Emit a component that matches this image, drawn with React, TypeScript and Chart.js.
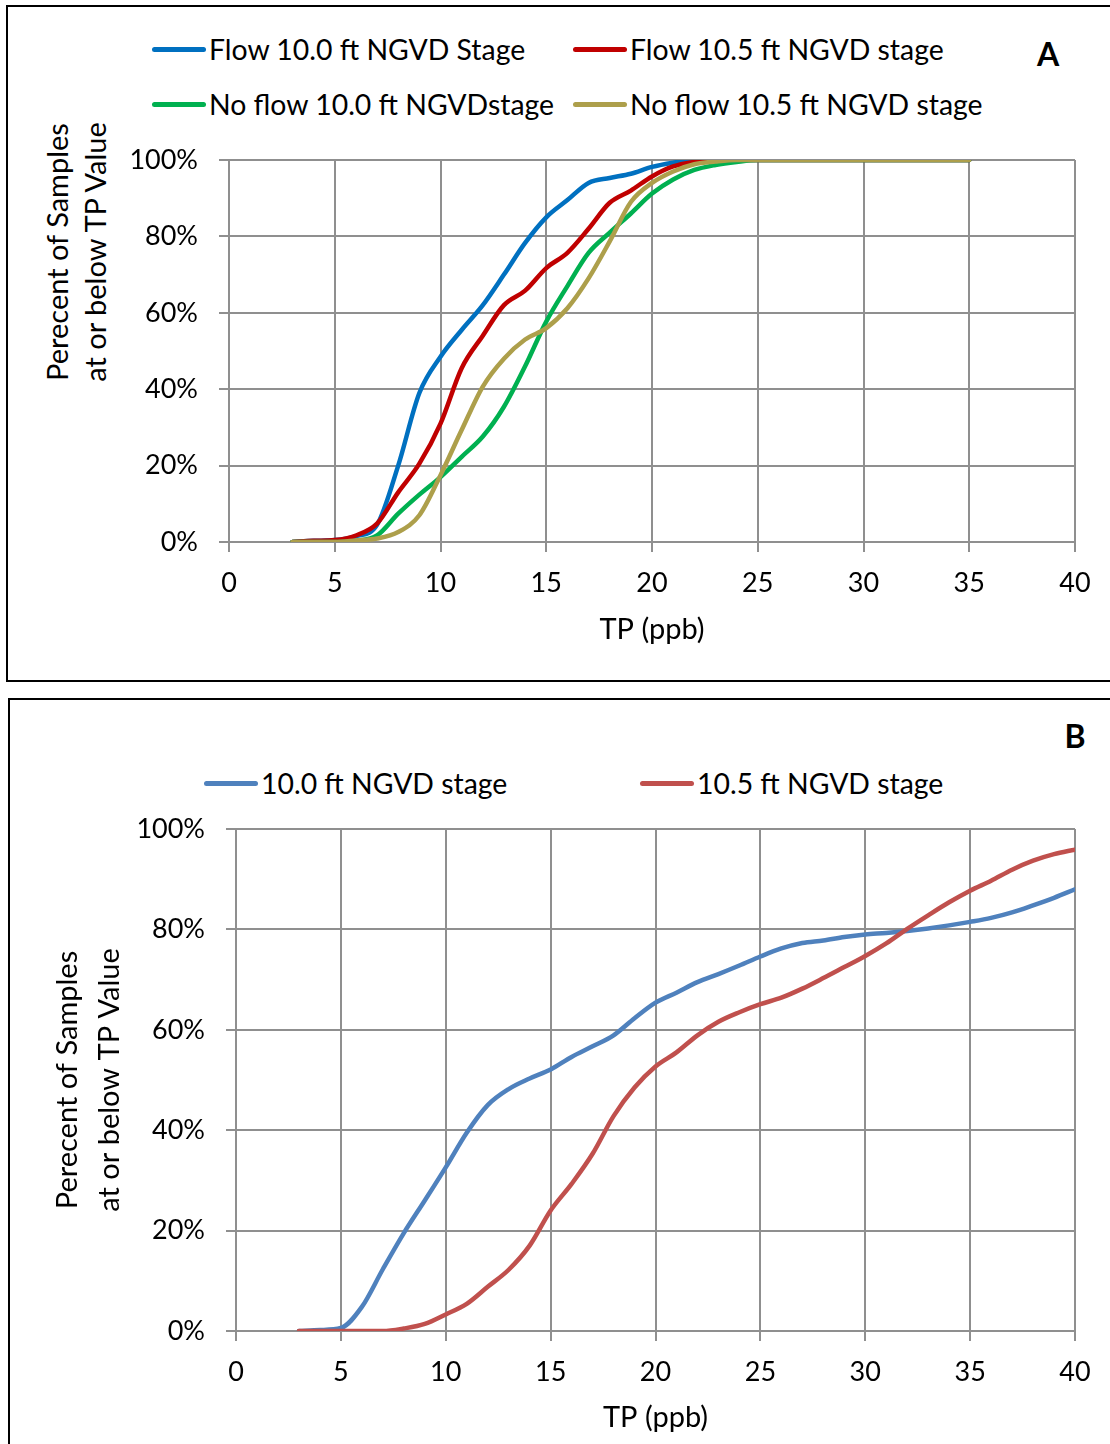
import React, { useEffect, useRef } from "react";
import { Chart, registerables } from "chart.js";

Chart.register(...registerables);

// ---------------- data ----------------
// Panel A: x = TP (ppb), y = percent of samples at or below TP
const tpA = [3, 4, 5, 6, 7, 8, 9, 10, 11, 12, 13, 14, 15, 16, 17, 18, 19, 20, 21, 22, 23, 24, 25, 26, 27, 28, 29, 30, 31, 32, 33, 34, 35];
const flow100 = [0, 0.3, 0.5, 1.5, 4.5, 20, 39, 48.5, 55.5, 62, 70, 78.3, 85, 89.5, 94, 95.3, 96.4, 98.2, 99.3, 100, 100, 100, 100, 100, 100, 100, 100, 100, 100, 100, 100, 100, 100];
const flow105 = [0, 0.3, 0.5, 1.7, 4.8, 13, 20.5, 31, 45.5, 54, 62, 65.8, 71.7, 75.7, 82, 88.8, 92, 95.7, 98.3, 99.5, 100, 100, 100, 100, 100, 100, 100, 100, 100, 100, 100, 100, 100];
const noFlow100 = [0, 0, 0, 0.3, 1.7, 7.4, 12.4, 17, 22.3, 27.6, 35.4, 46, 57.7, 67, 75.7, 81, 86, 91.2, 94.9, 97.4, 98.7, 99.5, 100, 100, 100, 100, 100, 100, 100, 100, 100, 100, 100];
const noFlow105 = [0, 0, 0, 0.4, 0.9, 2.6, 7, 17.5, 29.3, 40.7, 48, 53, 56, 61.2, 69, 78.7, 89, 94, 97, 98.9, 99.6, 100, 100, 100, 100, 100, 100, 100, 100, 100, 100, 100, 100];

// Panel B
const tpB = [3, 4, 5, 6, 7, 8, 9, 10, 11, 12, 13, 14, 15, 16, 17, 18, 19, 20, 21, 22, 23, 24, 25, 26, 27, 28, 29, 30, 31, 32, 33, 34, 35, 36, 37, 38, 39, 40];
const stage100 = [0, 0.2, 0.6, 4.8, 12.3, 19.5, 26, 32.6, 39.5, 45, 48.2, 50.3, 52.1, 54.6, 56.7, 58.9, 62.3, 65.4, 67.4, 69.5, 71.1, 72.8, 74.6, 76.2, 77.3, 77.8, 78.5, 79, 79.3, 79.7, 80.2, 80.8, 81.5, 82.3, 83.4, 84.8, 86.3, 88];
const stage105 = [0, 0, 0, 0, 0, 0.5, 1.4, 3.3, 5.4, 8.8, 12.2, 17, 24, 29.3, 35.3, 42.8, 48.5, 52.7, 55.5, 58.9, 61.6, 63.5, 65.1, 66.4, 68.2, 70.3, 72.5, 74.7, 77.2, 80.1, 82.8, 85.4, 87.7, 89.7, 91.9, 93.7, 95, 95.9];

// axis settings
const xMin = 0;
const xMax = 40;
const xStep = 5;
const yMin = 0;
const yMax = 100;
const yStep = 20;

const legendA = ["Flow 10.0 ft NGVD Stage", "Flow 10.5 ft NGVD stage", "No flow 10.0 ft NGVDstage", "No flow 10.5 ft NGVD stage"];
const legendB = ["10.0 ft NGVD stage", "10.5 ft NGVD stage"];
const yTitle = ["Perecent of Samples", "at or below TP Value"];
const xTitle = "TP (ppb)";

// ---------------- styles ----------------
const FONT = "Lato, 'Open Sans', sans-serif";
const GRID = "#8f8f8f";
const colorsA = ["#0070C0", "#C00000", "#00B050", "#AD9F4B"];
const colorsB = ["#4F81BD", "#C0504D"];

function pts(xs: number[], ys: number[]) {
  return xs.map((x, i) => ({ x, y: ys[i] }));
}

function scales(opts: {
  yWidth: number;
  xHeight: number;
  xTitlePad: number;
  yTitle?: any;
}) {
  return {
    x: {
      type: "linear",
      min: xMin,
      max: xMax,
      ticks: {
        stepSize: xStep,
        padding: 15,
        color: "#000",
        maxRotation: 0,
        font: { family: FONT, size: 27 },
      },
      grid: { color: GRID, lineWidth: 2, tickLength: 10, tickColor: GRID, tickWidth: 2 },
      border: { color: GRID, width: 2 },
      title: {
        display: true,
        text: xTitle,
        color: "#000",
        font: { family: FONT, size: 29 },
        padding: { top: 0, bottom: opts.xTitlePad },
      },
      afterFit: (s: any) => {
        s.height = opts.xHeight;
      },
    },
    y: {
      min: yMin,
      max: yMax,
      ticks: {
        stepSize: yStep,
        padding: 21,
        color: "#000",
        font: { family: FONT, size: 27 },
        callback: (v: any) => v + "%",
      },
      grid: { color: GRID, lineWidth: 2, tickLength: 10, tickColor: GRID, tickWidth: 2 },
      border: { color: GRID, width: 2 },
      title: opts.yTitle || { display: false },
      afterFit: (s: any) => {
        s.width = opts.yWidth;
      },
    },
  };
}

function ChartA() {
  const ref = useRef<HTMLCanvasElement | null>(null);
  useEffect(() => {
    const series = [flow100, flow105, noFlow100, noFlow105];
    const chart = new Chart(ref.current as HTMLCanvasElement, {
      type: "line",
      data: {
        datasets: series.map((s, i) => ({
          label: legendA[i],
          data: pts(tpA, s),
          borderColor: colorsA[i],
          backgroundColor: colorsA[i],
          order: 4 - i,
        })),
      },
      options: {
        animation: false,
        responsive: false,
        layout: { padding: { left: 0, top: 160, right: 35, bottom: 0 } },
        plugins: { legend: { display: false }, tooltip: { enabled: false } },
        elements: {
          point: { radius: 0 },
          line: { borderWidth: 4.5, cubicInterpolationMode: "monotone", borderCapStyle: "round", borderJoinStyle: "round" },
        },
        scales: scales({ yWidth: 229, xHeight: 148, xTitlePad: 43 }) as any,
      },
    } as any);
    return () => chart.destroy();
  }, []);
  return <canvas ref={ref} width={1110} height={690} style={{ position: "absolute", left: 0, top: 0 }} />;
}

function ChartB() {
  const ref = useRef<HTMLCanvasElement | null>(null);
  useEffect(() => {
    const series = [stage100, stage105];
    const chart = new Chart(ref.current as HTMLCanvasElement, {
      type: "line",
      data: {
        datasets: series.map((s, i) => ({
          label: legendB[i],
          data: pts(tpB, s),
          borderColor: colorsB[i],
          backgroundColor: colorsB[i],
          order: 2 - i,
        })),
      },
      options: {
        animation: false,
        responsive: false,
        layout: { padding: { left: 0, top: 139, right: 35, bottom: 0 } },
        plugins: { legend: { display: false }, tooltip: { enabled: false } },
        elements: {
          point: { radius: 0 },
          line: { borderWidth: 4.5, cubicInterpolationMode: "monotone", borderCapStyle: "round", borderJoinStyle: "round" },
        },
        scales: scales({
          yWidth: 236,
          xHeight: 113,
          xTitlePad: 9,
          yTitle: {
            display: true,
            text: yTitle,
            color: "#000",
            font: { family: FONT, size: 29, lineHeight: 42 / 29 },
            padding: { top: 47, bottom: 0 },
          },
        }) as any,
      },
    } as any);
    return () => chart.destroy();
  }, []);
  return <canvas ref={ref} width={1110} height={754} style={{ position: "absolute", left: 0, top: 690 }} />;
}

function LegendItem({ x, y, color, text }: { x: number; y: number; color: string; text: string }) {
  return (
    <>
      <div
        style={{
          position: "absolute",
          left: x,
          top: y - 2.5,
          width: 54,
          height: 5,
          borderRadius: 3,
          background: color,
        }}
      />
      <div
        style={{
          position: "absolute",
          left: x + 57,
          top: y - 20,
          height: 40,
          lineHeight: "40px",
          fontFamily: FONT,
          fontSize: 28.4,
          color: "#000",
          whiteSpace: "nowrap",
        }}
      >
        {text}
      </div>
    </>
  );
}

export default function App() {
  return (
    <div
      style={{
        position: "absolute",
        left: 0,
        top: 0,
        width: 1110,
        height: 1444,
        overflow: "hidden",
        background: "#fff",
      }}
    >
      {/* panel borders */}
      <div style={{ position: "absolute", left: 6, top: 5, width: 1130, height: 677, border: "2px solid #000", boxSizing: "border-box" }} />
      <div style={{ position: "absolute", left: 8, top: 698, width: 1130, height: 800, border: "2px solid #000", boxSizing: "border-box" }} />

      {/* panel A legend */}
      <LegendItem x={152} y={49} color={colorsA[0]} text={legendA[0]} />
      <LegendItem x={573} y={49} color={colorsA[1]} text={legendA[1]} />
      <LegendItem x={152} y={104} color={colorsA[2]} text={legendA[2]} />
      <LegendItem x={573} y={104} color={colorsA[3]} text={legendA[3]} />
      <div style={{ position: "absolute", left: 1028, top: 34, width: 40, height: 40, lineHeight: "40px", textAlign: "center", fontFamily: FONT, fontWeight: 700, fontSize: 32 }}>A</div>

      {/* panel A y title */}
      <div
        style={{
          position: "absolute",
          left: 76 - 200,
          top: 252 - 38,
          width: 400,
          height: 76,
          transform: "rotate(-90deg)",
          transformOrigin: "50% 50%",
          textAlign: "center",
          fontFamily: FONT,
          fontSize: 29,
          lineHeight: "38px",
          color: "#000",
          whiteSpace: "nowrap",
        }}
      >
        <div>{yTitle[0]}</div>
        <div>{yTitle[1]}</div>
      </div>

      <ChartA />

      {/* panel B legend */}
      <LegendItem x={204} y={783} color={colorsB[0]} text={legendB[0]} />
      <LegendItem x={640} y={783} color={colorsB[1]} text={legendB[1]} />
      <div style={{ position: "absolute", left: 1055, top: 716, width: 40, height: 40, lineHeight: "40px", textAlign: "center", fontFamily: FONT, fontWeight: 700, fontSize: 32 }}>B</div>

      <ChartB />
    </div>
  );
}
